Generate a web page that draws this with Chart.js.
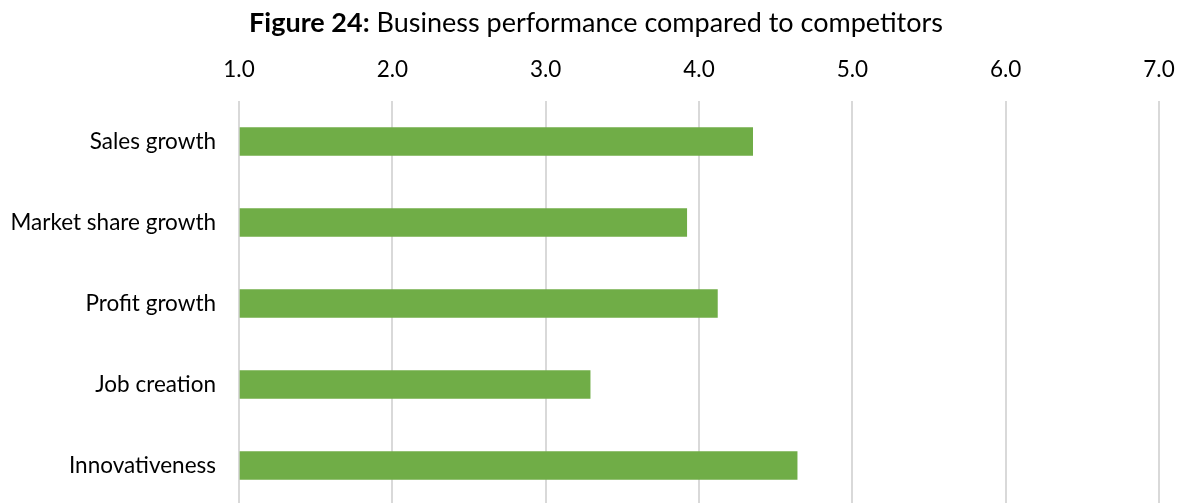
<!DOCTYPE html>
<html>
<head>
<meta charset="utf-8">
<script src="https://cdn.jsdelivr.net/npm/chart.js@4"></script>
<style>
  html, body { margin: 0; padding: 0; background: #fff; overflow: hidden; }
  #chart { display: block; }
</style>
</head>
<body>
<canvas id="chart" width="1184" height="510"></canvas>
<script>
// 競合他社と比べた業績評価（平均スコア）
const categories = ["Sales growth", "Market share growth", "Profit growth", "Job creation", "Innovativeness"];
const scores = [4.35, 3.92, 4.12, 3.29, 4.64];
const tickValues = [1, 2, 3, 4, 5, 6, 7];

const FONT = "Lato, 'Open Sans', sans-serif";

// 「Figure 24:」だけ太字にしたタイトルを描く
const titlePlugin = {
  id: "mixedTitle",
  afterDraw(chart) {
    const c = chart.ctx;
    const bold = "Figure 24:";
    const rest = " Business performance compared to competitors";
    c.save();
    c.fillStyle = "#000";
    c.textBaseline = "alphabetic";
    c.font = "bold 27px " + FONT;
    const w1 = c.measureText(bold).width;
    c.font = "27px " + FONT;
    const w2 = c.measureText(rest).width;
    const x0 = 596 - (w1 + w2) / 2;
    c.font = "bold 27px " + FONT;
    c.fillText(bold, x0, 32);
    c.font = "27px " + FONT;
    c.fillText(rest, x0 + w1, 32);
    c.restore();
  }
};

// 目盛りラベル由来の余白を消して、プロット領域の位置を固定する
function noLabelPadding(scale) {
  scale.paddingLeft = 0;
  scale.paddingRight = 0;
  scale.paddingTop = 0;
  scale.paddingBottom = 0;
}

const ctx = document.getElementById("chart");

new Chart(ctx, {
  type: "bar",
  data: {
    labels: categories,
    datasets: [{
      data: scores,
      base: 1,
      backgroundColor: "#70ad47",
      barThickness: 28,
    }],
  },
  options: {
    indexAxis: "y",
    responsive: false,
    animation: false,
    layout: { padding: { top: 0, right: 25, bottom: 4, left: 0 } },
    scales: {
      x: {
        position: "top",
        min: 1,
        max: 7,
        afterBuildTicks: (scale) => { scale.ticks = tickValues.map((v) => ({ value: v })); },
        afterFit: (scale) => { scale.height = 101; noLabelPadding(scale); },
        grid: { color: "#d9d9d9", lineWidth: 2, drawTicks: false },
        border: { display: false },
        ticks: {
          padding: 18,
          color: "#000",
          font: { family: FONT, size: 22.5 },
          callback: (v) => Number(v).toFixed(1),
        },
      },
      y: {
        afterFit: (scale) => { scale.width = 239; noLabelPadding(scale); },
        grid: { display: false, drawTicks: false },
        border: { display: false },
        ticks: {
          padding: 23,
          color: "#000",
          font: { family: FONT, size: 22.5 },
        },
      },
    },
    plugins: {
      legend: { display: false },
      tooltip: { enabled: false },
    },
  },
  plugins: [titlePlugin],
});
</script>
</body>
</html>
